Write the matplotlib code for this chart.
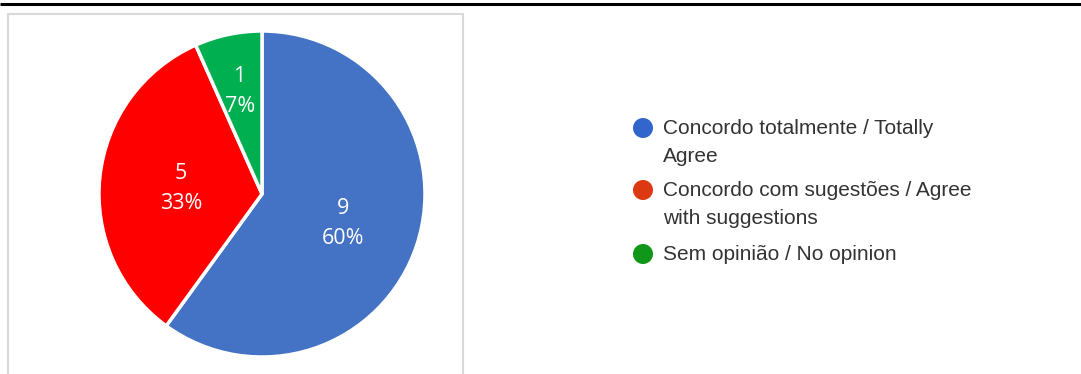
import matplotlib
matplotlib.use("Agg")
import matplotlib.pyplot as plt
import numpy as np
from matplotlib.patches import Rectangle, Circle

categories = ["Concordo totalmente / Totally\nAgree",
              "Concordo com sugestões / Agree\nwith suggestions",
              "Sem opinião / No opinion"]
counts = [9, 5, 1]
pie_colors = ["#4472C4", "#FF0000", "#00B050"]
legend_colors = ["#3366CC", "#DC3912", "#109618"]
label_dist = [0.52, 0.5, 0.66]

W, H = 1081, 374
fig = plt.figure(figsize=(W / 100, H / 100), dpi=100)
ax = fig.add_axes([0, 0, 1, 1])
ax.set_xlim(0, W)
ax.set_ylim(0, H)
ax.set_aspect("equal")
ax.axis("off")

# top rule (page caption cut off)
ax.plot([0, W], [H - 4, H - 4], color="black", lw=2.2, solid_capstyle="butt")

# chart frame
ax.add_patch(Rectangle((8, -5), 455, H - 9, fill=False,
                       edgecolor="#d9d9d9", lw=1.5))

cx, cy, r = 262, H - 194, 163
total = sum(counts)
wedges, _ = ax.pie(counts, colors=pie_colors, startangle=90, counterclock=False,
                   center=(cx, cy), radius=r,
                   wedgeprops=dict(edgecolor="white", linewidth=2.5))
ax.set_xlim(0, W)
ax.set_ylim(0, H)

for w, c, d in zip(wedges, counts, label_dist):
    ang = np.deg2rad((w.theta1 + w.theta2) / 2)
    x = cx + d * r * np.cos(ang)
    y = cy + d * r * np.sin(ang) - 3
    ax.text(x, y, f"{c}\n{round(100 * c / total)}%", ha="center", va="center",
            color="white", fontsize=15.5, family="Open Sans", linespacing=1.55)

# legend
lx, tx = 643, 663
ly = [128, 190, 254]
for lab, col, y in zip(categories, legend_colors, ly):
    ax.add_patch(Circle((lx, H - y), 10, color=col, lw=0))
    for i, line in enumerate(lab.split("\n")):
        ax.text(tx, H - y - 6 - 28 * i, line, ha="left", va="baseline",
                color="#333333", fontsize=15, family="Liberation Sans")

fig.savefig("out.png", dpi=100)
